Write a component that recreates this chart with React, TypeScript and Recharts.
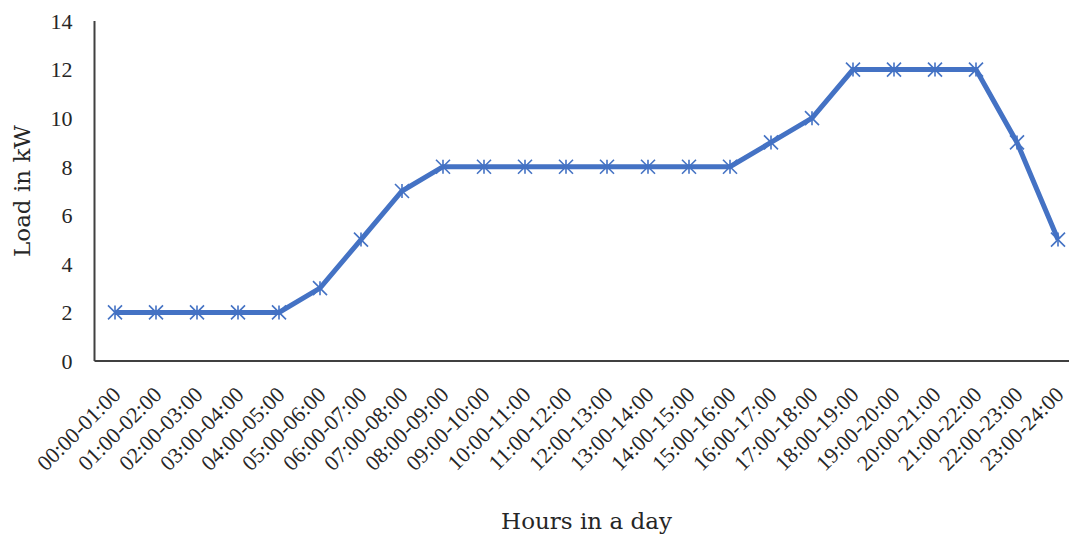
import React from 'react'
import { Label, Line, LineChart, XAxis, YAxis } from 'recharts'

const hours = [
  '00:00-01:00', '01:00-02:00', '02:00-03:00', '03:00-04:00', '04:00-05:00', '05:00-06:00',
  '06:00-07:00', '07:00-08:00', '08:00-09:00', '09:00-10:00', '10:00-11:00', '11:00-12:00',
  '12:00-13:00', '13:00-14:00', '14:00-15:00', '15:00-16:00', '16:00-17:00', '17:00-18:00',
  '18:00-19:00', '19:00-20:00', '20:00-21:00', '21:00-22:00', '22:00-23:00', '23:00-24:00',
]
const loadKw = [2, 2, 2, 2, 2, 3, 5, 7, 8, 8, 8, 8, 8, 8, 8, 8, 9, 10, 12, 12, 12, 12, 9, 5]
const yTicks = [0, 2, 4, 6, 8, 10, 12, 14]

const data = hours.map((h, i) => ({ hour: h, load: loadKw[i] }))

const FONT = '"Liberation Serif", serif'
const TITLE_FONT = '"DejaVu Serif", serif'
const BLUE = '#4472C4'
const TEXT = '#262626'

// excel style "star" marker: an x with a vertical bar
const StarDot = (props: any) => {
  const { cx, cy } = props
  if (cx == null || cy == null) return null
  const r = 7
  return (
    <g stroke={BLUE} strokeWidth={1.6}>
      <line x1={cx - r} y1={cy - r} x2={cx + r} y2={cy + r} />
      <line x1={cx - r} y1={cy + r} x2={cx + r} y2={cy - r} />
      <line x1={cx} y1={cy - r} x2={cx} y2={cy + r} />
    </g>
  )
}

const HourTick = (props: any) => {
  const { x, y, payload } = props
  return (
    <g transform={`translate(${x + 7},${y + 35})`}>
      <text transform="rotate(-45)" textAnchor="end" fill={TEXT} fontSize={22} fontFamily={FONT}>
        {payload.value}
      </text>
    </g>
  )
}

export default function App() {
  return (
    <div style={{ position: 'fixed', left: 0, top: 0, width: 1069, height: 534, overflow: 'hidden', background: '#fff' }}>
      <LineChart
        width={1100}
        height={534}
        data={data}
        margin={{ top: 21, right: 21.5, bottom: 0, left: 0 }}
      >
        <XAxis
          dataKey="hour"
          interval={0}
          height={173}
          padding={{ left: 20.5, right: 20.5 }}
          tickLine={false}
          tickSize={0}
          tickMargin={0}
          axisLine={{ stroke: '#404040', strokeWidth: 2 }}
          tick={<HourTick />}
        >
          <Label
            value="Hours in a day"
            position="insideBottom"
            offset={5}
            style={{ fontFamily: TITLE_FONT, fontSize: 23, fill: TEXT }}
          />
        </XAxis>
        <YAxis
          width={94.5}
          domain={[0, 14]}
          ticks={yTicks}
          tickLine={false}
          tickSize={0}
          tickMargin={22}
          axisLine={{ stroke: '#404040', strokeWidth: 2 }}
          tick={{ fill: TEXT, fontSize: 22, fontFamily: FONT }}
        >
          <Label
            value="Load in kW"
            angle={-90}
            position="insideLeft"
            offset={22}
            style={{ fontFamily: TITLE_FONT, fontSize: 23, fill: TEXT, textAnchor: 'middle' }}
          />
        </YAxis>
        <Line
          type="linear"
          dataKey="load"
          stroke={BLUE}
          strokeWidth={5}
          dot={<StarDot />}
          activeDot={false}
          isAnimationActive={false}
        />
      </LineChart>
    </div>
  )
}
